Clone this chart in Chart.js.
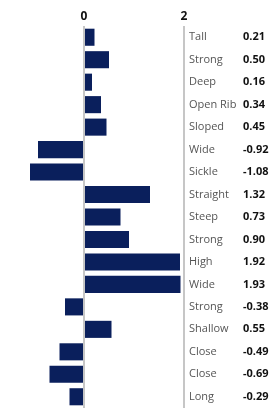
<!DOCTYPE html>
<html>
<head>
<meta charset="utf-8">
<script src="https://cdn.jsdelivr.net/npm/chart.js@4/dist/chart.umd.min.js"></script>
<style>
  html, body { margin: 0; padding: 0; background: #ffffff; }
  #wrap { position: relative; width: 278px; height: 408px; }
</style>
</head>
<body>
<div id="wrap"><canvas id="c"></canvas></div>
<script>
const categories = ["Tall", "Strong", "Deep", "Open Rib", "Sloped", "Wide", "Sickle", "Straight", "Steep", "Strong", "High", "Wide", "Strong", "Shallow", "Close", "Close", "Long"];
const values = [0.21, 0.50, 0.16, 0.34, 0.45, -0.92, -1.08, 1.32, 0.73, 0.90, 1.92, 1.93, -0.38, 0.55, -0.49, -0.69, -0.29];
const axisTicks = [0, 2];
const valueLabels = values.map(v => v.toFixed(2));

const FONT = "'Open Sans', 'Liberation Sans', sans-serif";

function fixVertical(scale, w) {
  scale.width = w;
  scale.paddingTop = 0;
  scale.paddingBottom = 0;
}

new Chart(document.getElementById('c'), {
  type: 'bar',
  data: {
    labels: categories,
    datasets: [{
      data: values,
      backgroundColor: '#0a1f5c',
      borderWidth: 0,
      categoryPercentage: 0.76,
      barPercentage: 1.0,
      yAxisID: 'y'
    }]
  },
  options: {
    indexAxis: 'y',
    responsive: true,
    maintainAspectRatio: false,
    animation: false,
    layout: { padding: 0 },
    plugins: { legend: { display: false }, tooltip: { enabled: false } },
    scales: {
      x: {
        position: 'top',
        min: -1.68,
        max: 2,
        z: 1,
        afterBuildTicks: (scale) => { scale.ticks = axisTicks.map(v => ({ value: v })); },
        afterFit: (scale) => { scale.height = 26; scale.paddingLeft = 0; scale.paddingRight = 0; },
        border: { display: false },
        grid: { color: '#c6c6c6', lineWidth: 2, drawTicks: false },
        ticks: {
          color: '#111111',
          padding: 2,
          maxRotation: 0,
          font: { family: FONT, size: 12, weight: 'bold' },
          callback: (v) => String(v)
        }
      },
      y: {
        position: 'right',
        weight: 0,
        afterFit: (scale) => fixVertical(scale, 59),
        border: { display: false },
        grid: { display: false, drawTicks: false },
        ticks: {
          color: '#555555',
          padding: 5,
          crossAlign: 'near',
          autoSkip: false,
          font: { family: FONT, size: 11 }
        }
      },
      y2: {
        type: 'category',
        position: 'right',
        weight: 1,
        offset: true,
        labels: valueLabels,
        afterFit: (scale) => fixVertical(scale, 35),
        border: { display: false },
        grid: { display: false, drawTicks: false },
        ticks: {
          color: '#111111',
          padding: 0,
          crossAlign: 'near',
          autoSkip: false,
          font: { family: FONT, size: 11, weight: 'bold' }
        }
      }
    }
  }
});
</script>
</body>
</html>
